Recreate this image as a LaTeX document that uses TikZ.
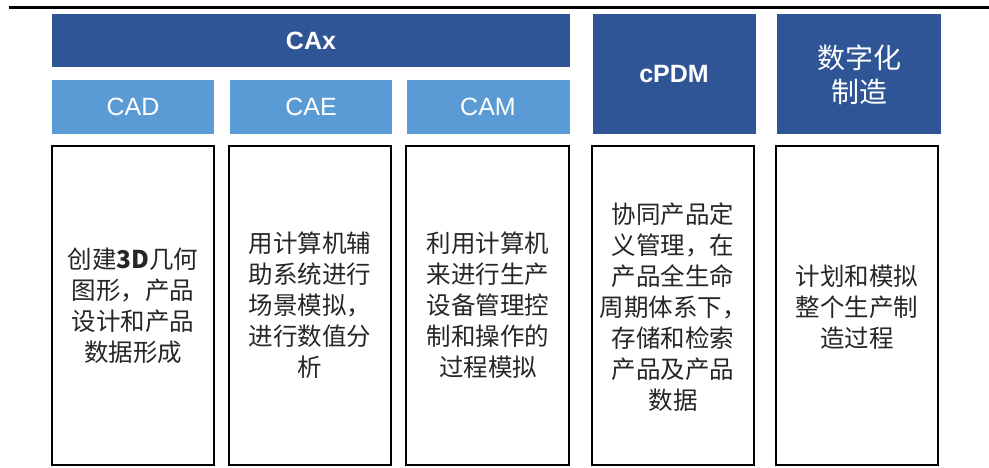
\documentclass[tikz,border=0pt]{standalone}
\usepackage{fontspec}
\setmainfont{Liberation Sans}
\newfontfamily\cjk{Noto Sans CJK SC}
\definecolor{darkb}{HTML}{2F5597}
\definecolor{lightb}{HTML}{5B9BD5}
\begin{document}
\begin{tikzpicture}[x=1pt,y=-1pt,
  hdr/.style={text=white,font=\fontsize{25}{30}\selectfont\bfseries},
  sub/.style={text=white,font=\fontsize{25}{30}\selectfont},
  body/.style={draw=black,line width=1.6pt,fill=white},
  btext/.style={align=center,font=\cjk\fontsize{24.5}{31}\selectfont,text=black!85},
]
\useasboundingbox (0,0) rectangle (989,468);
\draw[line width=2.2pt] (9,7.5) coordinate (la) -- (989,7.5) coordinate (lb);
% header boxes
\fill[darkb] (52,14) rectangle (570,67);
\node[hdr] (cax) at (311,41) {CAx};
\fill[lightb] (52,80) rectangle (214,134);
\node[sub] (cad) at (133,107) {CAD};
\fill[lightb] (230,80) rectangle (392,134);
\node[sub] (cae) at (311,107) {CAE};
\fill[lightb] (407,80) rectangle (570,134);
\node[sub] (cam) at (488,107) {CAM};
\fill[darkb] (593,14) rectangle (756,134);
\node[hdr] (cpdm) at (674,74) {cPDM};
\fill[darkb] (777,14) rectangle (941,134);
\node[text=white,align=center,font=\cjk\fontsize{28}{34}\selectfont] (szh) at (859,75) {数字化\\制造};
% body boxes
\draw[body] (52,146) rectangle (214,465);
\node[btext] (t1) at (133,306) {创建\textbf{3D}几何\\图形，产品\\设计和产品\\数据形成};
\draw[body] (229,146) rectangle (391,465);
\node[btext] (t2) at (310,305) {用计算机辅\\助系统进行\\场景模拟，\\进行数值分\\析};
\draw[body] (406,146) rectangle (569,465);
\node[btext] (t3) at (488,305) {利用计算机\\来进行生产\\设备管理控\\制和操作的\\过程模拟};
\draw[body] (592,146) rectangle (754,465);
\node[btext] (t4) at (673,307) {协同产品定\\义管理，在\\产品全生命\\周期体系下，\\存储和检索\\产品及产品\\数据};
\draw[body] (776,146) rectangle (938,465);
\node[btext] (t5) at (857,307) {计划和模拟\\整个生产制\\造过程};
\end{tikzpicture}
\end{document}
